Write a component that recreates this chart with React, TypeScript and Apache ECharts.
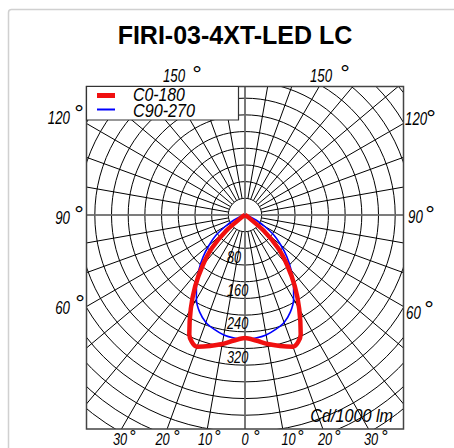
import React, { useEffect, useRef } from "react";
import * as echarts from "echarts";

// ---- data ----
const chartTitle = "FIRI-03-4XT-LED LC";
const unitLabel = "Cd/1000 lm";
const seriesNames = ["C0-180", "C90-270"];
const gammaAngles = [0, 5, 10, 15, 20, 25, 30, 35, 40, 45, 50, 55, 60, 65, 70, 75, 80, 85, 90];
const c0c180Values = [295, 302, 314, 325, 336, 316, 260, 208, 158, 112, 58, 10, 2, 0, 0, 0, 0, 0, 0];
const c90c270Values = [298, 296, 292, 284, 274, 257, 233, 203, 172, 142, 112, 85, 54, 30, 15, 7, 3, 1, 0];
const radiusLabelValues = [80, 160, 240, 320];
const radiusMin = 40;
const radiusMax = 640;
const radiusStep = 40;
const angleStep = 10;
const topLabels = ["150", "150"];
const leftLabels = ["120", "90", "60"];
const rightLabels = ["120", "90", "60"];
const bottomLabels = ["30", "20", "10", "0", "10", "20", "30"];

// ---- layout ----
const W = 454;
const H = 448;
const CX = 245;
const CY = 215;
const R_PX = 267;
const BOX = { l: 86.5, t: 86.5, r: 403.5, b: 429 };

const mirrorSeries = (vals: number[]) => {
  const pts: number[][] = [];
  for (let i = vals.length - 1; i >= 1; i--) pts.push([vals[i], 360 - gammaAngles[i]]);
  for (let i = 0; i < vals.length; i++) pts.push([vals[i], gammaAngles[i]]);
  return pts;
};

const FONT = "Liberation Sans";

const txt = (
  text: string,
  x: number,
  y: number,
  align: string,
  size: number,
  sx: number,
  italic = true
) => ({
  type: "text",
  x,
  y,
  scaleX: sx,
  z: 12,
  style: {
    text,
    fill: "#000",
    fontSize: size,
    fontFamily: FONT,
    fontStyle: italic ? "italic" : "normal",
    align,
    textAlign: align,
    verticalAlign: "middle",
    textVerticalAlign: "middle",
  },
});

const deg = (x: number, y: number, size = 24) =>
  txt("°", x, y + size * 0.22, "center", size, 1, false);

export default function App() {
  const ref = useRef<HTMLDivElement>(null);
  useEffect(() => {
    if (!ref.current) return;
    const chart = echarts.init(ref.current, undefined, { renderer: "svg" });
    const pxPerUnit = R_PX / radiusMax;
    const innerPx = radiusMin * pxPerUnit;

    const gridColors = ["#666", "#000", "#000", "#000", "#000", "#000", "#000", "#000", "#000"];

    const graphics: any[] = [];
    // main axes
    graphics.push({
      type: "line",
      shape: { x1: CX, y1: BOX.t, x2: CX, y2: BOX.b },
      style: { stroke: "#6a6a6a", lineWidth: 1.6 },
      z: 4.5,
    });
    graphics.push({
      type: "line",
      shape: { x1: BOX.l, y1: CY, x2: BOX.r, y2: CY },
      style: { stroke: "#6a6a6a", lineWidth: 1.6 },
      z: 4.5,
    });
    // masks outside box
    const mask = (x: number, y: number, w: number, h: number) => ({
      type: "rect",
      shape: { x, y, width: w, height: h },
      style: { fill: "#fff" },
      z: 10,
    });
    graphics.push(mask(0, 0, W, BOX.t));
    graphics.push(mask(0, BOX.b, W, H - BOX.b));
    graphics.push(mask(0, 0, BOX.l, H));
    graphics.push(mask(BOX.r, 0, W - BOX.r, H));
    // box border
    graphics.push({
      type: "rect",
      shape: { x: BOX.l, y: BOX.t, width: BOX.r - BOX.l, height: BOX.b - BOX.t },
      style: { fill: "none", stroke: "#444", lineWidth: 1.5 },
      z: 11,
    });
    // outer light frame
    graphics.push({
      type: "rect",
      shape: { x: 8.5, y: 9.5, width: 500, height: 500, r: 3 },
      style: { fill: "none", stroke: "#d0d0d0", lineWidth: 1.5 },
      z: 12,
    });
    // legend box
    graphics.push({
      type: "rect",
      shape: { x: BOX.l, y: BOX.t, width: 152, height: 33.5 },
      style: { fill: "#fff", stroke: "#333", lineWidth: 1.2 },
      z: 12,
    });
    graphics.push({
      type: "rect",
      shape: { x: 97, y: 93, width: 18, height: 5 },
      style: { fill: "#f01010" },
      z: 13,
    });
    graphics.push({
      type: "line",
      shape: { x1: 97, y1: 109.5, x2: 115, y2: 109.5 },
      style: { stroke: "#0000ff", lineWidth: 2 },
      z: 13,
    });
    graphics.push({ ...txt(seriesNames[0], 133, 95.5, "left", 18, 0.88), z: 13 });
    graphics.push({ ...txt(seriesNames[1], 133, 111, "left", 18, 0.9), z: 13 });

    // radius labels
    radiusLabelValues.forEach((v) => {
      graphics.push({ ...txt(String(v), 227, CY + v * pxPerUnit + 8, "left", 17, 0.75), z: 9 });
    });

    // top labels
    graphics.push(txt(topLabels[0], 174, 75.5, "center", 19, 0.7));
    graphics.push(deg(197, 68));
    graphics.push(txt(topLabels[1], 321, 75.5, "center", 19, 0.7));
    graphics.push(deg(345, 67));
    // left labels
    const leftY = [117.5, 217.5, 307.5];
    const leftDeg = [[79, 107], [79, 208], [80, 297]];
    leftLabels.forEach((t, i) => {
      graphics.push(txt(t, 70, leftY[i], "right", 19, 0.7));
      graphics.push(deg(leftDeg[i][0], leftDeg[i][1]));
    });
    const rightY = [118.5, 216, 312];
    const rightX = [405, 408, 406];
    const rightDeg = [[431, 112], [430, 208], [429, 303]];
    rightLabels.forEach((t, i) => {
      graphics.push(txt(t, rightX[i], rightY[i], "left", 19, 0.7));
      graphics.push(deg(rightDeg[i][0], rightDeg[i][1]));
    });
    // bottom labels
    const bottomX = [120, 162.5, 205, 245, 288.5, 325, 371];
    const bottomDegX = [133, 177, 218, 257, 301, 338, 385];
    bottomLabels.forEach((t, i) => {
      graphics.push(txt(t, bottomX[i], 439.5, "center", 16, 0.8));
      graphics.push(deg(bottomDegX[i], 433, 17));
    });
    // unit label
    graphics.push({ ...txt(unitLabel, 393, 416.5, "right", 18, 0.9), z: 9 });

    const hiddenAxisParts = {
      axisLine: { show: false },
      axisTick: { show: false },
      axisLabel: { show: false },
    };

    chart.setOption({
      animation: false,
      backgroundColor: "#fff",
      title: {
        text: chartTitle,
        left: 235,
        top: 22,
        textAlign: "center",
        padding: 0,
        z: 12,
        textStyle: { fontSize: 25, fontWeight: "bold", fontFamily: FONT, color: "#000" },
      },
      // polar 0: grid (starts at the first circle); polar 1: data (same scale, from 0)
      polar: [
        { center: [CX, CY], radius: [innerPx, R_PX] },
        { center: [CX, CY], radius: [0, R_PX] },
      ],
      angleAxis: [
        {
          polarIndex: 0,
          type: "value",
          min: 0,
          max: 360,
          interval: angleStep,
          startAngle: 270,
          clockwise: false,
          z: 0,
          ...hiddenAxisParts,
          splitLine: { show: true, lineStyle: { color: gridColors, width: 1 } },
        },
        {
          polarIndex: 1,
          type: "value",
          min: 0,
          max: 360,
          interval: angleStep,
          startAngle: 270,
          clockwise: false,
          ...hiddenAxisParts,
          splitLine: { show: false },
        },
      ],
      radiusAxis: [
        {
          polarIndex: 0,
          type: "value",
          min: radiusMin,
          max: radiusMax,
          interval: radiusStep,
          z: 0,
          ...hiddenAxisParts,
          splitLine: { show: true, lineStyle: { color: "#000", width: 1 } },
        },
        {
          polarIndex: 1,
          type: "value",
          min: 0,
          max: radiusMax,
          interval: radiusStep,
          ...hiddenAxisParts,
          splitLine: { show: false },
        },
      ],
      series: [
        {
          name: seriesNames[1],
          type: "line",
          coordinateSystem: "polar",
          polarIndex: 1,
          data: mirrorSeries(c90c270Values),
          showSymbol: false,
          symbol: "none",
          smooth: 0.3,
          clip: false,
          lineStyle: { color: "#0000ff", width: 1.6 },
          z: 5,
        },
        {
          name: seriesNames[0],
          type: "line",
          coordinateSystem: "polar",
          polarIndex: 1,
          data: mirrorSeries(c0c180Values),
          showSymbol: false,
          symbol: "none",
          smooth: 0.3,
          clip: false,
          lineStyle: { color: "#f01010", width: 4.5 },
          z: 6,
        },
      ],
      graphic: { elements: graphics },
    });
    return () => chart.dispose();
  }, []);
  return (
    <div
      ref={ref}
      style={{ position: "fixed", left: 0, top: 0, width: W, height: H }}
    />
  );
}
